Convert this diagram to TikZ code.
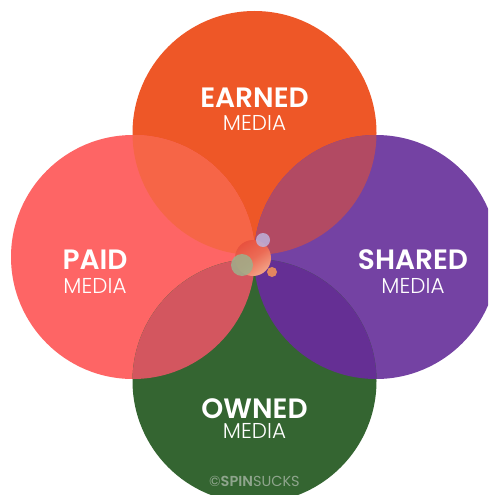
\documentclass[tikz,border=0pt]{standalone}
\usepackage{fontspec}
\setmainfont{Poppins}
\newfontfamily\boldfont{Poppins}[UprightFont=* SemiBold]
\newfontfamily\lightfont{Poppins}[UprightFont=* Light]
\definecolor{cTop}{HTML}{EE5727}
\definecolor{cLeft}{HTML}{FE6565}
\definecolor{cRight}{HTML}{7442A3}
\definecolor{cBottom}{HTML}{346531}
\definecolor{cTL}{HTML}{F66547}
\definecolor{cTR}{HTML}{B24A63}
\definecolor{cLB}{HTML}{D3565F}
\definecolor{cRB}{HTML}{652F94}
\definecolor{cMark}{HTML}{8FA58D}
\definecolor{ballA}{HTML}{E8523F}
\definecolor{ballB}{HTML}{F3A488}
\definecolor{cGreenBall}{HTML}{9DB08C}
\definecolor{cLav}{HTML}{BDB2DC}
\definecolor{cOrBall}{HTML}{F0905A}
\begin{document}
\begin{tikzpicture}[x=1pt,y=-1pt,
  big/.style={text=white,font=\boldfont\fontsize{28}{28}\selectfont,inner sep=0pt,anchor=base},
  small/.style={text=white,font=\lightfont\fontsize{21.5}{21.5}\selectfont,inner sep=0pt,anchor=base}]
\useasboundingbox[fill=white] (0,0) rectangle (488,495);
\begin{scope}
\clip (0,0) rectangle (488,495);
% circles
\coordinate (T) at (254.5,133);
\coordinate (L) at (133,257);
\coordinate (R) at (376,257);
\coordinate (B) at (254.5,381);
\fill[cTop] (T) circle (122);
\fill[cLeft] (L) circle (122);
\fill[cRight] (R) circle (122);
\fill[cBottom] (B) circle (122);
% overlaps
\begin{scope}\clip (T) circle (122); \fill[cTL] (L) circle (122); \fill[cTR] (R) circle (122);\end{scope}
\begin{scope}\clip (B) circle (122); \fill[cLB] (L) circle (122); \fill[cRB] (R) circle (122);\end{scope}
% center bubbles
\shade[top color=ballA, bottom color=ballB, middle color=ballA!70!ballB, shading angle=35] (253,258) circle (18);
\fill[cGreenBall, opacity=0.85] (242,265) circle (11);
\fill[cLav, opacity=0.85] (263,240) circle (7);
\fill[cOrBall, opacity=0.9] (272,272) circle (5);
\end{scope}
% labels
\node[big] (earned) at (254.5,107) {EARNED};
\node[small] (em) at (254.5,130.5) {MEDIA};
\node[big] (paid) at (95,269) {PAID};
\node[small] (pm) at (95,293) {MEDIA};
\node[big] (shared) at (413,269) {SHARED};
\node[small] (sm) at (413,293) {MEDIA};
\node[big] (owned) at (254.5,418) {OWNED};
\node[small] (om) at (254.5,438.5) {MEDIA};
\node[text=cMark,inner sep=0pt,anchor=base,font=\fontsize{14.5}{14.5}\selectfont] (mark) at (254.5,486) {©{\boldfont SPIN}SUCKS};
\end{tikzpicture}
\end{document}
